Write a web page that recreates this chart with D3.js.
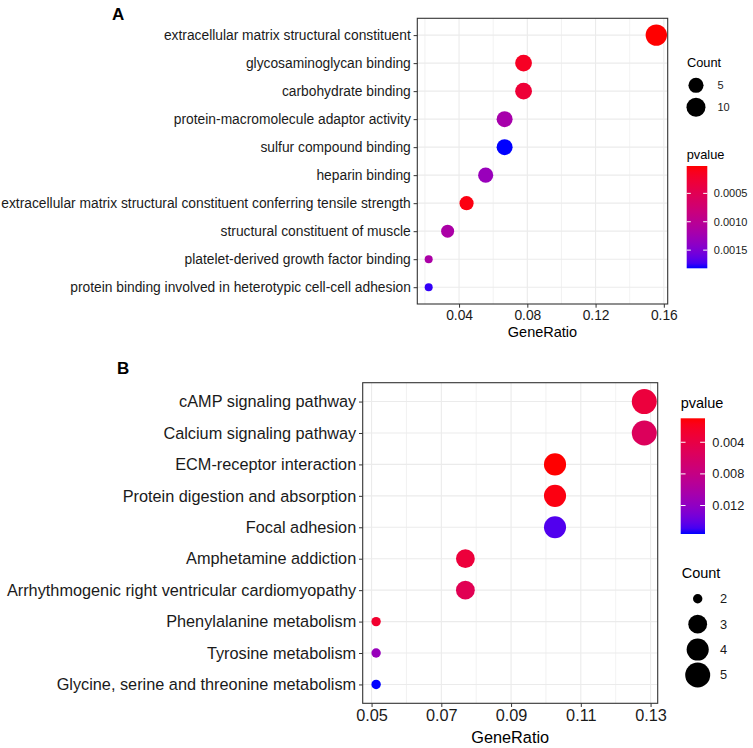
<!DOCTYPE html>
<html><head><meta charset="utf-8">
<script src="https://cdn.jsdelivr.net/npm/d3@7/dist/d3.min.js"></script>
<style>
body{margin:0;background:#fff}
svg{display:block}
text{font-family:"Liberation Sans",Arial,sans-serif}
</style>
</head><body>
<svg id="c" width="753" height="748"></svg>
<script>
// ---------------- Panel A data ----------------
const termsA = [
  "extracellular matrix structural constituent",
  "glycosaminoglycan binding",
  "carbohydrate binding",
  "protein-macromolecule adaptor activity",
  "sulfur compound binding",
  "heparin binding",
  "extracellular matrix structural constituent conferring tensile strength",
  "structural constituent of muscle",
  "platelet-derived growth factor binding",
  "protein binding involved in heterotypic cell-cell adhesion"
];
const ratioA  = [0.1556, 0.0778, 0.0778, 0.0667, 0.0667, 0.0556, 0.0444, 0.0333, 0.0222, 0.0222];
const countA  = [14, 7, 7, 6, 6, 5, 4, 3, 2, 2];
const pvalueA = [0.000018, 0.00016, 0.00029, 0.00119, 0.00182, 0.00131, 0.00007, 0.00115, 0.00115, 0.00177];
const xTicksA = [0.04, 0.08, 0.12, 0.16];
const pTicksA = [0.0005, 0.0010, 0.0015];
const countLegendA = [5, 10];

// ---------------- Panel B data ----------------
const termsB = [
  "cAMP signaling pathway",
  "Calcium signaling pathway",
  "ECM-receptor interaction",
  "Protein digestion and absorption",
  "Focal adhesion",
  "Amphetamine addiction",
  "Arrhythmogenic right ventricular cardiomyopathy",
  "Phenylalanine metabolism",
  "Tyrosine metabolism",
  "Glycine, serine and threonine metabolism"
];
const ratioB  = [0.1282, 0.1282, 0.1026, 0.1026, 0.1026, 0.0769, 0.0769, 0.0513, 0.0513, 0.0513];
const countB  = [5, 5, 4, 4, 4, 3, 3, 2, 2, 2];
const pvalueB = [0.0035, 0.0054, 0.00097, 0.0014, 0.0146, 0.0034, 0.0049, 0.0027, 0.0115, 0.0156];
const xTicksB = [0.05, 0.07, 0.09, 0.11, 0.13];
const pTicksB = [0.004, 0.008, 0.012];
const countLegendB = [2, 3, 4, 5];

const svg = d3.select("#c");

function drawPanel(cfg) {
  const L = cfg.layout;
  const g = svg.append("g");
  const ext = d3.extent(cfg.ratio);
  const pad = (ext[1] - ext[0]) * 0.05;
  const x = d3.scaleLinear().domain([ext[0] - pad, ext[1] + pad]).range([L.left, L.right]);
  const y = d3.scalePoint().domain(cfg.terms).range([L.top, L.bottom]).padding(0.6);
  const pExt = d3.extent(cfg.pvalue);
  const color = d3.scaleLinear().domain(pExt).range(["#FF0000", "#0000FF"]).interpolate(d3.interpolateLab);
  const size = d3.scaleSqrt().domain(L.sizeDomain).range(L.sizeRange).clamp(false);

  // panel background
  g.append("rect").attr("x", L.left).attr("y", L.top)
    .attr("width", L.right - L.left).attr("height", L.bottom - L.top).attr("fill", "#fff");

  // grid
  const step = cfg.xTicks[1] - cfg.xTicks[0];
  const dom = x.domain();
  const minors = [];
  for (let v = cfg.xTicks[0] - step / 2; v < dom[1]; v += step) if (v > dom[0]) minors.push(v);
  g.selectAll(".minor").data(minors).enter().append("line")
    .attr("x1", d => x(d)).attr("x2", d => x(d)).attr("y1", L.top).attr("y2", L.bottom)
    .attr("stroke", "#EFEFEF").attr("stroke-width", 0.8);
  g.selectAll(".vmajor").data(cfg.xTicks).enter().append("line")
    .attr("x1", d => x(d)).attr("x2", d => x(d)).attr("y1", L.top).attr("y2", L.bottom)
    .attr("stroke", "#EBEBEB").attr("stroke-width", 1.1);
  g.selectAll(".hmajor").data(cfg.terms).enter().append("line")
    .attr("x1", L.left).attr("x2", L.right).attr("y1", d => y(d)).attr("y2", d => y(d))
    .attr("stroke", "#EBEBEB").attr("stroke-width", 1.1);

  // points
  const rows = cfg.terms.map((t, i) => ({term: t, ratio: cfg.ratio[i], count: cfg.count[i], p: cfg.pvalue[i]}));
  g.selectAll(".pt").data(rows).enter().append("circle")
    .attr("cx", d => x(d.ratio)).attr("cy", d => y(d.term))
    .attr("r", d => size(d.count)).attr("fill", d => color(d.p));

  // border
  g.append("rect").attr("x", L.left).attr("y", L.top)
    .attr("width", L.right - L.left).attr("height", L.bottom - L.top)
    .attr("fill", "none").attr("stroke", "#333").attr("stroke-width", 1.1);

  // axes
  const yAxis = g.append("g").attr("transform", `translate(${L.left},0)`)
    .call(d3.axisLeft(y).tickSize(3.7).tickPadding(2.8));
  yAxis.select(".domain").remove();
  yAxis.selectAll("line").attr("stroke", "#333");
  yAxis.selectAll("text").attr("font-size", L.axisFont).attr("fill", "#1a1a1a")
    .attr("font-family", '"Liberation Sans",Arial,sans-serif');

  const xAxis = g.append("g").attr("transform", `translate(0,${L.bottom})`)
    .call(d3.axisBottom(x).tickValues(cfg.xTicks).tickFormat(d3.format(".2f")).tickSize(3.7).tickPadding(2.5));
  xAxis.select(".domain").remove();
  xAxis.selectAll("line").attr("stroke", "#333");
  xAxis.selectAll("text").attr("font-size", L.axisFont).attr("fill", "#1a1a1a")
    .attr("font-family", '"Liberation Sans",Arial,sans-serif');

  g.append("text").attr("x", (L.left + L.right) / 2).attr("y", L.titleY)
    .attr("text-anchor", "middle").attr("font-size", L.titleFont).attr("fill", "#000")
    .text("GeneRatio");

  // panel letter
  g.append("text").attr("x", L.letterX).attr("y", L.letterY)
    .attr("font-size", 17).attr("font-weight", "bold").attr("fill", "#000").text(cfg.letter);

  // colour bar legend
  const C = L.cbar;
  g.append("text").attr("x", C.x).attr("y", C.titleY).attr("font-size", L.legTitleFont)
    .attr("fill", "#000").text("pvalue");
  const gid = "grad" + cfg.letter;
  const grad = svg.append("defs").append("linearGradient").attr("id", gid)
    .attr("x1", 0).attr("y1", 0).attr("x2", 0).attr("y2", 1);
  d3.range(0, 1.0001, 0.05).forEach(t => {
    grad.append("stop").attr("offset", t).attr("stop-color", color(pExt[0] + t * (pExt[1] - pExt[0])));
  });
  g.append("rect").attr("x", C.x).attr("y", C.top).attr("width", C.w).attr("height", C.bottom - C.top)
    .attr("fill", `url(#${gid})`);
  const cy = d3.scaleLinear().domain(pExt).range([C.top, C.bottom]);
  const ticksG = g.selectAll(".cbt").data(cfg.pTicks).enter().append("g");
  ticksG.append("line").attr("x1", C.x).attr("x2", C.x + C.w / 5)
    .attr("y1", d => cy(d)).attr("y2", d => cy(d)).attr("stroke", "#fff").attr("stroke-width", 1);
  ticksG.append("line").attr("x1", C.x + C.w - C.w / 5).attr("x2", C.x + C.w)
    .attr("y1", d => cy(d)).attr("y2", d => cy(d)).attr("stroke", "#fff").attr("stroke-width", 1);
  ticksG.append("text").attr("x", C.x + C.w + C.labGap).attr("y", d => cy(d)).attr("dy", "0.35em")
    .attr("font-size", L.legFont).attr("fill", "#1a1a1a").text(d3.format(C.fmt));

  // count legend
  const S = L.sizeLeg;
  g.append("text").attr("x", S.titleX).attr("y", S.titleY).attr("font-size", L.legTitleFont)
    .attr("fill", "#000").text("Count");
  const sy = d3.scalePoint().domain(cfg.countLegend).range([S.top, S.bottom]);
  g.selectAll(".sl").data(cfg.countLegend).enter().append("circle")
    .attr("cx", S.cx).attr("cy", d => sy(d)).attr("r", d => size(d)).attr("fill", "#000");
  g.selectAll(".slt").data(cfg.countLegend).enter().append("text")
    .attr("x", S.labX).attr("y", d => sy(d)).attr("dy", "0.35em")
    .attr("font-size", L.legFont).attr("fill", "#1a1a1a").text(d => d);
}

drawPanel({
  letter: "A", terms: termsA, ratio: ratioA, count: countA, pvalue: pvalueA,
  xTicks: xTicksA, pTicks: pTicksA, countLegend: countLegendA,
  layout: {
    left: 417.3, right: 667.7, top: 18.3, bottom: 304,
    axisFont: 13.8, titleFont: 14.5, titleY: 337,
    letterX: 112, letterY: 20,
    sizeDomain: [2, 3, 14], sizeRange: [4, 6.5, 10.7],
    legTitleFont: 12.8, legFont: 11,
    cbar: {x: 686.7, w: 20.6, top: 166, bottom: 268.3, titleY: 159, labGap: 6.5, fmt: ".4f"},
    sizeLeg: {titleX: 687, titleY: 66.5, top: 85.3, bottom: 107.3, cx: 696, labX: 717.5}
  }
});

drawPanel({
  letter: "B", terms: termsB, ratio: ratioB, count: countB, pvalue: pvalueB,
  xTicks: xTicksB, pTicks: pTicksB, countLegend: countLegendB,
  layout: {
    left: 362.7, right: 657.7, top: 382.7, bottom: 703.3,
    axisFont: 16.3, titleFont: 16.3, titleY: 743,
    letterX: 117, letterY: 374,
    sizeDomain: [2, 3, 5], sizeRange: [4.7, 9.4, 12.5],
    legTitleFont: 14.5, legFont: 12.8,
    cbar: {x: 680.7, w: 24.3, top: 418.3, bottom: 534, titleY: 407.5, labGap: 7.3, fmt: ".3f"},
    sizeLeg: {titleX: 681.7, titleY: 578.3, top: 598.7, bottom: 675, cx: 697.7, labX: 720}
  }
});
</script>
</body></html>
